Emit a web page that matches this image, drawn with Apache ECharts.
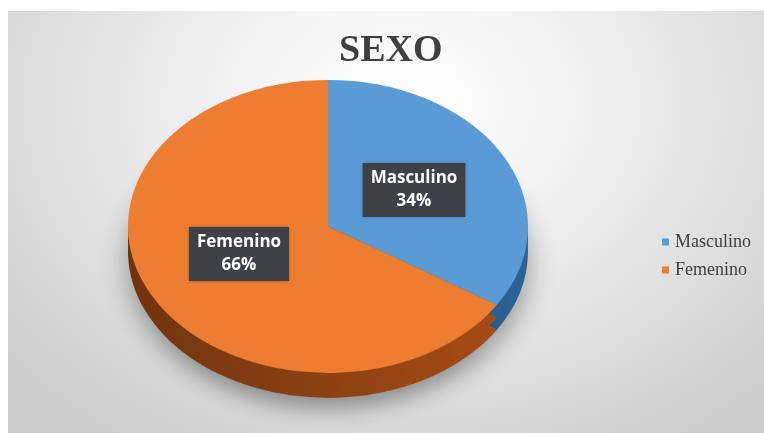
<!DOCTYPE html>
<html>
<head>
<meta charset="utf-8">
<script src="https://cdn.jsdelivr.net/npm/echarts@6/dist/echarts.min.js"></script>
<style>
  html, body { margin: 0; padding: 0; background: #ffffff; }
  #stage { position: relative; width: 764px; height: 433px; overflow: hidden; }
  #frame {
    position: absolute; left: 8px; top: 11px; width: 756px; height: 422px;
    background: radial-gradient(ellipse 68% 95% at 52% 22%, #ffffff 0%, #f4f4f4 30%, #dfdfdf 70%, #cccccc 100%);
  }
  /* the pie is drawn round, then flattened to give the tilted 3D look */
  #pie {
    position: absolute; left: 0; top: 0; width: 764px; height: 592px;
    transform: scaleY(0.7325); transform-origin: 0 0;
  }
  #overlay { position: absolute; left: 0; top: 0; width: 764px; height: 433px; }
</style>
</head>
<body>
<div id="stage">
  <div id="frame"></div>
  <div id="pie"></div>
  <div id="overlay"></div>
</div>
<script>
// Data
const categories = ['Masculino', 'Femenino'];
const values = [34, 66];
const chartTitle = 'SEXO';

// Colours
const topColors = ['#5b9bd5', '#ed7d31'];
const sideColors = [
  ['#1d4a73', '#2d6496'],
  ['#70340f', '#a54c15']
];

const total = values.reduce((a, b) => a + b, 0);
const percentText = values.map(v => Math.round(v / total * 100) + '%');

// geometry of the round pie before it is flattened
const cx = 328, cy = 309, r = 200, depth = 34;

function sliceData(colorFor) {
  return categories.map((name, i) => ({
    name: name,
    value: values[i],
    itemStyle: { color: colorFor(i) }
  }));
}

function sideGradient(i) {
  return new echarts.graphic.LinearGradient(0, 0, 1, 0, [
    { offset: 0, color: sideColors[i][0] },
    { offset: 1, color: sideColors[i][1] }
  ]);
}

const basePie = {
  type: 'pie',
  radius: r,
  startAngle: 90,
  clockwise: true,
  silent: true,
  label: { show: false },
  labelLine: { show: false },
  emphasis: { disabled: true },
  animation: false
};

const pieChart = echarts.init(document.getElementById('pie'), null, { renderer: 'canvas' });
pieChart.setOption({
  animation: false,
  series: [
    Object.assign({}, basePie, {
      center: [cx, cy + depth],
      z: 1,
      itemStyle: { borderWidth: 0, shadowBlur: 28, shadowOffsetY: 16, shadowColor: 'rgba(0,0,0,0.35)' },
      data: sliceData(sideGradient)
    }),
    Object.assign({}, basePie, {
      center: [cx, cy + depth / 2],
      z: 2,
      itemStyle: { borderWidth: 0 },
      data: sliceData(sideGradient)
    }),
    Object.assign({}, basePie, {
      center: [cx, cy],
      z: 3,
      itemStyle: { borderWidth: 0 },
      data: sliceData(i => topColors[i])
    })
  ]
});

// Title, legend and data labels sit on top of the pie
const labelPos = [[414, 190], [239, 254]];
const labelGraphics = categories.map((name, i) => ({
  type: 'text',
  x: labelPos[i][0],
  y: labelPos[i][1],
  z: 10,
  style: {
    text: name + '\n' + percentText[i],
    fill: '#ffffff',
    font: 'bold 17px "Open Sans", sans-serif',
    lineHeight: 23,
    align: 'center',
    verticalAlign: 'middle',
    backgroundColor: '#3e4146',
    padding: [4, 8, 4, 8],
    shadowBlur: 3,
    shadowColor: 'rgba(0,0,0,0.3)'
  }
}));

const overlay = echarts.init(document.getElementById('overlay'), null, { renderer: 'canvas' });
overlay.setOption({
  animation: false,
  backgroundColor: 'transparent',
  title: {
    text: chartTitle,
    left: 339,
    top: 32,
    padding: 0,
    textStyle: {
      fontFamily: '"Liberation Serif", "Times New Roman", serif',
      fontWeight: 'bold',
      fontSize: 38,
      color: '#3f3f3f'
    }
  },
  legend: {
    orient: 'vertical',
    left: 657,
    top: 228,
    icon: 'rect',
    itemWidth: 7,
    itemHeight: 7,
    itemGap: 10,
    selectedMode: false,
    data: categories,
    textStyle: {
      fontFamily: '"Liberation Serif", "Times New Roman", serif',
      fontSize: 18,
      lineHeight: 18,
      color: '#404040',
      padding: [0, 0, 0, 1]
    }
  },
  series: [{
    type: 'pie',
    radius: 0,
    center: [cx, 226],
    silent: true,
    label: { show: false },
    labelLine: { show: false },
    data: sliceData(i => topColors[i])
  }],
  graphic: labelGraphics
});
</script>
</body>
</html>
